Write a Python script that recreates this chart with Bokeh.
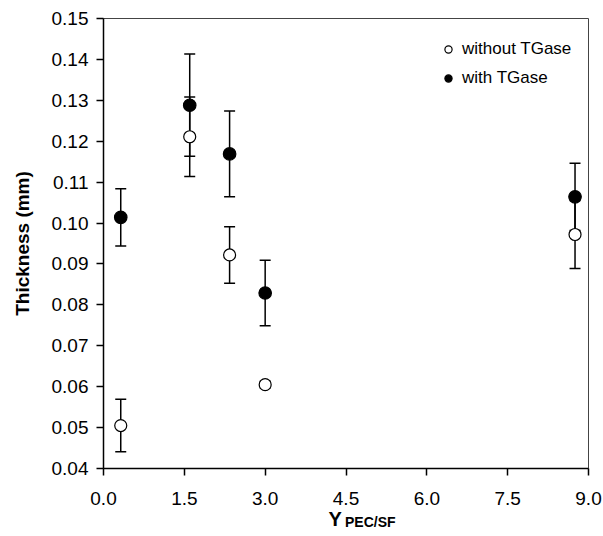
from bokeh.plotting import figure
from bokeh.models import (ColumnDataSource, Whisker, FixedTicker, PrintfTickFormatter,
                          Legend, LegendItem, TeeHead, Range1d, LinearAxis)
from bokeh.embed import file_html
from bokeh.resources import INLINE

# ---- data ----
y_pec_sf = [0.32, 1.60, 2.34, 3.00, 8.75]
without_tgase = [0.0505, 0.1211, 0.0922, 0.0605, 0.0972]
without_err = [0.0064, 0.0097, 0.0069, 0.0008, 0.0083]
with_tgase = [0.1014, 0.1288, 0.1169, 0.0829, 0.1064]
with_err = [0.0070, 0.0125, 0.0105, 0.0080, 0.0082]
x_ticks = [0.0, 1.5, 3.0, 4.5, 6.0, 7.5, 9.0]
y_ticks = [0.04, 0.05, 0.06, 0.07, 0.08, 0.09, 0.10, 0.11, 0.12, 0.13, 0.14, 0.15]
x_title_main = "Y"
x_title_sub = "PEC/SF"

FONT = "Liberation Sans"

src_wo = ColumnDataSource(dict(
    x=y_pec_sf, y=without_tgase,
    lo=[v - e for v, e in zip(without_tgase, without_err)],
    hi=[v + e for v, e in zip(without_tgase, without_err)]))
src_w = ColumnDataSource(dict(
    x=y_pec_sf, y=with_tgase,
    lo=[v - e for v, e in zip(with_tgase, with_err)],
    hi=[v + e for v, e in zip(with_tgase, with_err)]))

p = figure(width=603, height=536, output_backend="svg", toolbar_location=None,
           x_range=Range1d(0, 9), y_range=Range1d(0.04, 0.15),
           min_border_left=103, min_border_right=15, min_border_top=18, min_border_bottom=68)
p.grid.visible = False
p.background_fill_color = "white"
p.border_fill_color = "white"
p.outline_line_color = "#444444"
p.outline_line_width = 1

for ax in (p.xaxis[0], p.yaxis[0]):
    ax.axis_line_color = "black"
    ax.axis_line_width = 1.5
    ax.major_tick_line_color = "black"
    ax.major_tick_line_width = 1.5
    ax.major_tick_out = 7
    ax.major_tick_in = 0
    ax.minor_tick_line_color = None
    ax.major_label_text_font = FONT
    ax.major_label_text_font_size = "19px"
    ax.major_label_text_color = "black"

p.xaxis.ticker = FixedTicker(ticks=x_ticks)
p.xaxis.formatter = PrintfTickFormatter(format="%.1f")
p.xaxis.major_label_standoff = 16
p.yaxis.ticker = FixedTicker(ticks=y_ticks)
p.yaxis.formatter = PrintfTickFormatter(format="%.2f")
p.yaxis.major_label_standoff = 8

p.yaxis.axis_label = "Thickness (mm)"
p.yaxis.axis_label_text_font = FONT
p.yaxis.axis_label_text_font_style = "bold"
p.yaxis.axis_label_text_font_size = "19px"
p.yaxis.axis_label_text_color = "black"
p.yaxis.axis_label_standoff = 16

# x-axis title "Y" with subscript "PEC/SF", drawn as label-only axes below the main axis
Y_POS, SUB_POS = 4.30, 4.95


def title_axis(pos, text, size, standoff):
    ax = LinearAxis(ticker=FixedTicker(ticks=[pos]), major_label_overrides={pos: text},
                    axis_line_color=None, major_tick_line_color=None,
                    minor_tick_line_color=None, major_tick_out=0, major_tick_in=0,
                    major_label_standoff=standoff, major_label_text_font=FONT,
                    major_label_text_font_style="bold", major_label_text_font_size=size,
                    major_label_text_color="black")
    p.add_layout(ax, "below")
    return ax


title_axis(Y_POS, x_title_main, "20px", 0)
title_axis(SUB_POS, x_title_sub, "14px", -19)

# error bars (under markers)
for src in (src_wo, src_w):
    w = Whisker(source=src, base="x", lower="lo", upper="hi", dimension="height",
                line_color="black", line_width=1.5, level="underlay",
                lower_head=TeeHead(size=11, line_color="black", line_width=1.5),
                upper_head=TeeHead(size=11, line_color="black", line_width=1.5))
    p.add_layout(w)

r_wo = p.scatter("x", "y", source=src_wo, size=12, fill_color="white",
                 line_color="black", line_width=1.2)
r_w = p.scatter("x", "y", source=src_w, size=12.5, fill_color="black",
                line_color="black", line_width=1.2)

legend = Legend(items=[LegendItem(label="without TGase", renderers=[r_wo]),
                       LegendItem(label="with TGase", renderers=[r_w])],
                location=(336, 380), border_line_color=None, background_fill_alpha=0,
                padding=10, margin=0, spacing=9, glyph_width=18, glyph_height=20,
                label_height=20, label_standoff=5,
                label_text_font=FONT, label_text_font_size="17px", label_text_color="black")
p.add_layout(legend)

open("out.html", "w").write(file_html(p, INLINE))
